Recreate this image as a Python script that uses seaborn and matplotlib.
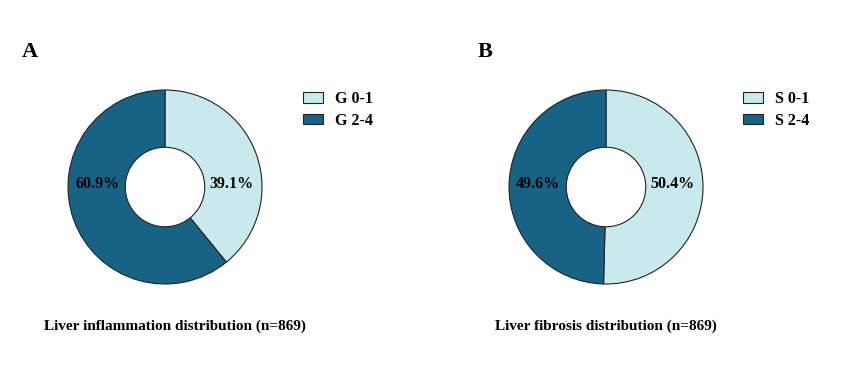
import matplotlib.pyplot as plt
import seaborn as sns
from matplotlib.patches import Patch

# Data
inflam_labels = ['G 0-1', 'G 2-4']
inflam_values = [39.1, 60.9]
fibro_labels = ['S 0-1', 'S 2-4']
fibro_values = [50.4, 49.6]
panel_letters = ['A', 'B']
titles = ['Liver inflammation distribution (n=869)',
          'Liver fibrosis distribution (n=869)']
colors = ['#c8eaed', '#176385']

sns.set_theme(style='white')
plt.rcParams['font.family'] = ['Liberation Serif', 'DejaVu Serif']
plt.rcParams['font.weight'] = 'bold'
plt.rcParams['text.color'] = 'black'

W, H = 841, 369
fig = plt.figure(figsize=(W / 100, H / 100), dpi=100)

R = 97
centers = [(165, 187), (606, 187)]
legend_x = [300, 740]
letter_x = [30, 485]
title_x = [175, 606]


def draw_donut(cx, cy, values, labels, letter, title, lx, ax_x, tx):
    ax = fig.add_axes([(cx - R) / W, 1 - (cy + R) / H, 2 * R / W, 2 * R / H])
    ax.pie(values, colors=colors, startangle=90, counterclock=False,
           radius=1, wedgeprops=dict(width=0.59, edgecolor='#222222',
                                     linewidth=0.8))
    ax.set_xlim(-1, 1)
    ax.set_ylim(-1, 1)
    ax.set_aspect('equal')
    ax.axis('off')
    # percentage labels placed on the horizontal axis
    ax.text(0.68, 0.03, f'{values[0]}%', ha='center', va='center',
            fontsize=11.5, fontweight='bold', color='black')
    ax.text(-0.70, 0.03, f'{values[1]}%', ha='center', va='center',
            fontsize=11.5, fontweight='bold', color='black')
    handles = [Patch(facecolor=c, edgecolor='#222222', linewidth=0.8)
               for c in colors]
    fig.legend(handles, labels, loc='upper left',
               bbox_to_anchor=(lx / W, 1 - 88 / H), frameon=False,
               prop=dict(size=11.5, weight='bold'), handlelength=1.25,
               handleheight=0.6, handletextpad=0.75, labelspacing=0.35,
               borderaxespad=0, borderpad=0.2, labelcolor='black')
    fig.text(ax_x / W, 1 - 52 / H, letter, fontsize=16, fontweight='bold',
             ha='center', va='center', color='black')
    fig.text(tx / W, 1 - 326 / H, title, fontsize=11, fontweight='bold',
             ha='center', va='center', color='black')


for i, (vals, labs) in enumerate([(inflam_values, inflam_labels),
                                  (fibro_values, fibro_labels)]):
    draw_donut(*centers[i], vals, labs, panel_letters[i], titles[i],
               legend_x[i], letter_x[i], title_x[i])

fig.savefig('out.png', dpi=100, facecolor='white')
